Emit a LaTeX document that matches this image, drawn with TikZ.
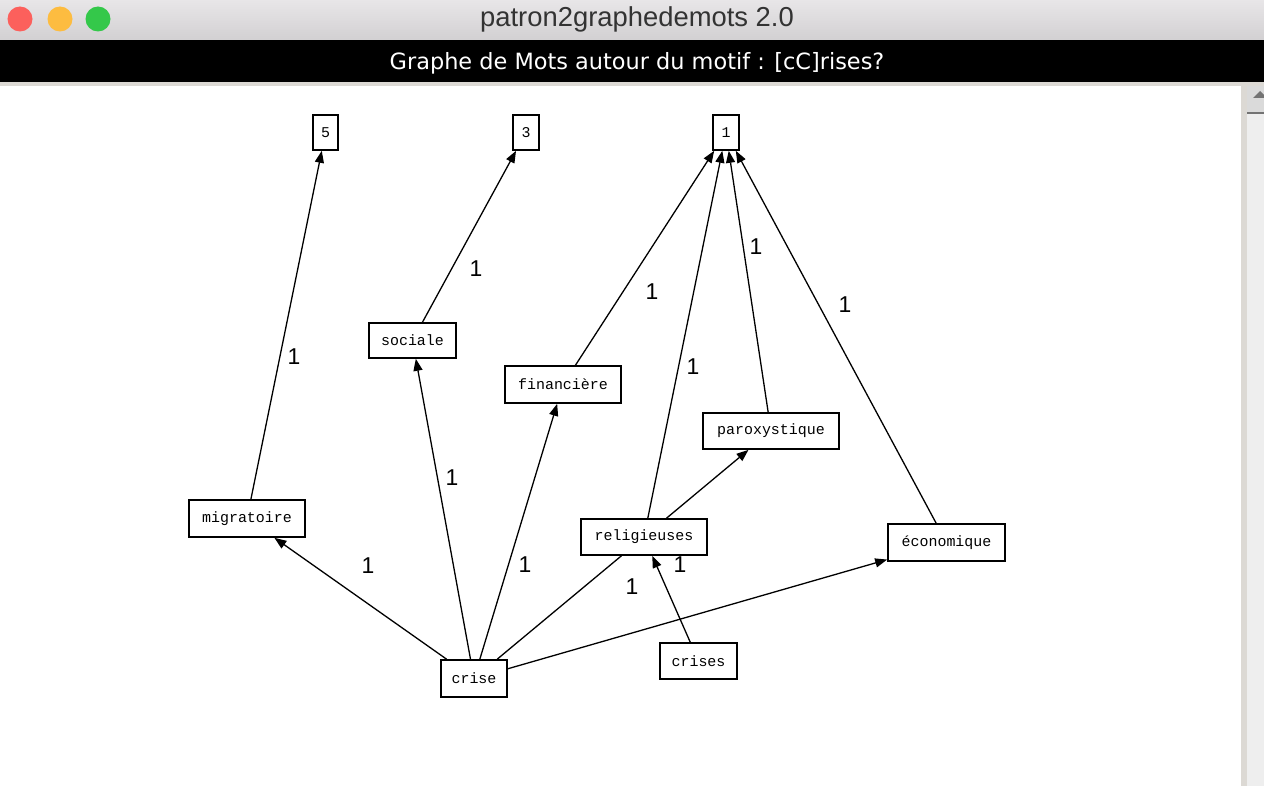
\documentclass[tikz,border=0pt]{standalone}
\usepackage{fontspec}
\setmainfont{Liberation Sans}
\newfontfamily\bandfont{DejaVu Sans}
\newfontfamily\nodefont{Liberation Mono}
\usetikzlibrary{arrows.meta}
\definecolor{tbtop}{HTML}{E8E6E8}
\definecolor{tbbot}{HTML}{D2D0D2}
\definecolor{lred}{HTML}{FC605C}
\definecolor{lyellow}{HTML}{FDBC40}
\definecolor{lgreen}{HTML}{34C84A}
\definecolor{framegray}{HTML}{DCD9D4}
\definecolor{trackgray}{HTML}{EEEEEE}
\definecolor{btngray}{HTML}{DADADA}
\begin{document}
\begin{tikzpicture}[x=1bp,y=-1bp,
  wbox/.style={draw, line width=1.6bp, inner sep=0pt, fill=white,
    font=\nodefont\fontsize{15}{15}\selectfont},
  conn/.style={line width=1.3bp, -{Triangle[length=12bp,width=9bp]}},
  plainconn/.style={line width=1.3bp},
  wt/.style={font=\fontsize{23}{23}\selectfont, inner sep=0pt}]
\useasboundingbox (0,0) rectangle (1264,786);
\fill[white] (0,0) rectangle (1264,786);
% title bar
\shade[top color=tbtop, bottom color=tbbot] (0,0) rectangle (1264,40);
\fill[lred] (20,19) circle[radius=12.5bp];
\fill[lyellow] (60,19) circle[radius=12.5bp];
\fill[lgreen] (98,19) circle[radius=12.5bp];
\node[text=black!80, font=\fontsize{27.5}{27.5}\selectfont] (title) at (637,19) {patron2graphedemots 2.0};
% black band
\fill[black] (0,40) rectangle (1264,82);
\node[text=white, font=\bandfont\fontsize{22.5}{22.5}\selectfont] (band) at (637,63) {Graphe de Mots autour du motif : [cC]rises?};
% frame and scrollbar
\fill[framegray] (0,82) rectangle (1264,86);
\fill[framegray] (1241,82) rectangle (1247,786);
\fill[trackgray] (1247,113) rectangle (1264,786);
\fill[btngray] (1247,86) rectangle (1264,112);
\fill[black!55] (1247,112) rectangle (1264,114);
\fill[black!55] (1253,98) -- (1260,91) -- (1267,98) -- cycle;
% nodes
\node[wbox, minimum width=25bp, minimum height=35bp] (n5) at (325.5,132.5) {5};
\node[wbox, minimum width=26bp, minimum height=35bp] (n3) at (526,132.5) {3};
\node[wbox, minimum width=26bp, minimum height=35bp] (n1) at (726,132.5) {1};
\node[wbox, minimum width=87bp, minimum height=35bp] (soc) at (412.5,340.5) {sociale};
\node[wbox, minimum width=116bp, minimum height=37bp] (fin) at (563,384.5) {financière};
\node[wbox, minimum width=136bp, minimum height=36bp] (par) at (771,431) {paroxystique};
\node[wbox, minimum width=116bp, minimum height=37bp] (mig) at (247,518.5) {migratoire};
\node[wbox, minimum width=126bp, minimum height=36bp] (rel) at (644,537) {religieuses};
\node[wbox, minimum width=117bp, minimum height=37bp] (eco) at (946.5,542.5) {économique};
\node[wbox, minimum width=66bp, minimum height=37bp] (cri) at (474,678.5) {crise};
\node[wbox, minimum width=77bp, minimum height=36bp] (cris) at (698.5,661) {crises};
% connectors
\draw[conn] (mig) -- (n5);
\draw[conn] (soc) -- (n3);
\draw[conn] (fin) -- (n1);
\draw[conn] (rel) -- (n1);
\draw[conn] (par) -- (n1);
\draw[conn] (eco) -- (n1);
\draw[conn] (cri) -- (mig);
\draw[conn] (cri) -- (soc);
\draw[conn] (cri) -- (fin);
\draw[plainconn] (cri) -- (rel);
\draw[conn] (cri) -- (eco);
\draw[conn] (cris) -- (rel);
\draw[conn] (rel) -- (par);
% weights
\node[wt] (w1) at (294,357) {1};
\node[wt] (w2) at (476,269) {1};
\node[wt] (w3) at (652,292) {1};
\node[wt] (w4) at (693,367) {1};
\node[wt] (w5) at (756,247) {1};
\node[wt] (w6) at (845,305) {1};
\node[wt] (w7) at (368,566) {1};
\node[wt] (w8) at (452,478) {1};
\node[wt] (w9) at (525,565) {1};
\node[wt] (w10) at (632,587) {1};
\node[wt] (w11) at (680,565) {1};
\end{tikzpicture}
\end{document}
